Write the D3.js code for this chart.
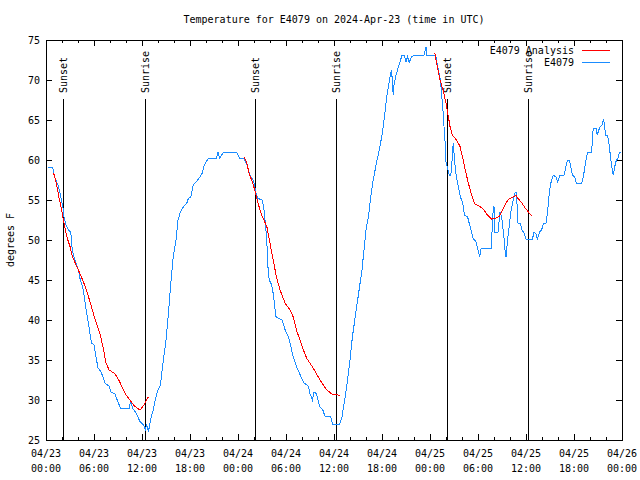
<!DOCTYPE html>
<html>
<head>
<meta charset="utf-8">
<script src="https://cdn.jsdelivr.net/npm/d3@7"></script>
<style>
  html, body { margin: 0; padding: 0; background: #fff; }
  svg { display: block; }
  text { font-family: "DejaVu Sans Mono", monospace; font-size: 10px; fill: #000; }
</style>
</head>
<body>
<svg id="chart" width="640" height="480"></svg>
<script>
// ---- DATA ----
const titleText = "Temperature for E4079 on 2024-Apr-23 (time in UTC)";
const yLabel = "degrees F";
const startTime = "2024-04-23T00:00:00Z";
const seriesNames = ["E4079 Analysis", "E4079"];
const yTicks = [25, 30, 35, 40, 45, 50, 55, 60, 65, 70, 75];
const xTickHours = [0, 6, 12, 18, 24, 30, 36, 42, 48, 54, 60, 66, 72];

// observed temperatures (hours since start, degrees F)
const obsHours = [0.25,0.85,1.0,1.25,1.55,1.85,2.1,2.25,2.5,2.8,3.1,3.2,3.3,3.5,3.75,4.05,4.25,4.6,4.8,4.95,5.3,5.5,5.7,6.0,6.25,6.5,6.9,7.1,7.4,7.9,8.1,8.6,8.9,9.3,10.4,10.6,10.8,11.3,11.75,12.2,12.4,12.6,12.8,13.1,13.4,13.75,14.0,14.3,14.7,15.0,15.3,15.6,15.9,16.25,16.5,16.8,17.2,17.6,17.8,18.1,18.4,18.8,19.25,19.5,19.8,20.3,21.3,21.5,21.7,22.2,23.8,24.25,24.75,25.2,25.5,25.9,26.1,26.3,26.5,27.0,27.2,27.4,27.6,27.7,27.9,28.2,28.4,28.75,29.5,29.9,30.3,30.6,30.9,31.3,31.75,32.2,32.8,33.0,33.3,33.5,33.8,34.2,34.6,34.9,35.6,35.8,36.7,37.0,37.4,37.8,38.0,38.3,38.6,38.9,39.2,39.5,39.7,40.0,40.3,40.6,40.9,41.3,41.75,42.1,42.4,42.6,43.0,43.2,43.4,43.5,43.8,44.2,44.5,44.75,45.0,45.2,45.4,45.7,46.1,47.25,47.5,47.6,48.7,49.0,49.3,49.6,49.75,49.9,50.0,50.4,50.6,50.8,50.9,51.1,51.3,51.5,51.8,52.1,52.3,52.7,52.9,53.2,53.4,53.75,53.95,54.2,54.4,55.7,55.8,56.0,56.1,56.5,56.75,56.95,57.2,57.4,57.5,57.7,57.9,58.1,58.4,58.6,58.75,58.9,59.0,59.3,59.5,59.8,60.0,60.8,61.0,61.25,61.4,61.7,61.95,62.2,62.5,62.7,62.9,63.1,63.4,63.75,63.95,64.25,64.75,65.0,65.2,65.4,65.6,65.8,66.1,66.3,66.95,67.2,67.5,67.7,68.2,68.4,68.75,68.9,69.1,69.3,69.5,69.7,69.8,69.95,70.2,70.4,70.6,70.9,71.1,71.3,71.5,71.7,71.85];
const obsTemps = [59.1,59.1,58.1,57.5,56.7,55.4,54.2,52.9,51.9,51.25,51.0,49.6,48.75,47.9,47.1,46.25,45.2,44.0,42.9,41.7,39.6,38.3,37.1,36.9,35.4,34.0,33.5,32.9,32.1,31.7,31.0,30.8,30.0,29.0,29.0,29.9,29.0,28.3,27.3,26.9,26.25,26.9,26.0,27.7,28.75,30.4,31.25,31.9,35.2,37.5,40.8,44.6,47.9,50.0,52.5,53.5,54.2,54.6,55.2,55.4,56.9,57.3,57.9,58.3,59.4,60.2,60.2,61.0,60.2,61.0,61.0,60.2,60.2,59.2,58.1,57.5,56.7,55.6,55.2,55.0,54.2,52.3,50.0,47.1,45.0,44.4,43.3,40.4,40.0,38.75,37.9,36.7,35.4,34.2,33.2,32.2,31.7,30.8,30.0,31.0,30.8,29.2,28.75,27.9,27.9,27.0,27.0,27.9,30.4,33.3,35.0,37.9,40.0,42.1,44.2,46.25,48.3,51.25,52.9,55.4,57.5,59.6,61.7,63.75,66.25,67.9,70.4,71.25,68.1,69.4,70.8,72.1,73.1,73.1,72.3,72.9,72.2,72.9,73.1,73.1,74.1,73.1,73.1,71.5,70.0,66.5,64.2,62.1,59.8,58.1,58.1,60.4,62.1,59.6,57.9,56.9,55.4,54.6,53.1,52.9,52.1,51.0,50.2,49.8,49.0,47.9,49.0,49.0,52.9,54.2,51.0,51.0,53.5,52.9,50.8,48.5,47.9,50.0,51.7,53.5,55.0,55.8,56.0,54.2,52.1,52.1,51.25,50.8,50.1,50.1,51.0,50.8,50.1,51.0,51.25,52.1,52.1,53.5,55.8,57.1,58.1,57.9,57.3,58.1,58.1,59.2,60.0,60.0,59.2,58.1,57.9,57.1,57.1,58.1,60.0,61.0,61.0,64.0,64.0,63.1,63.75,64.2,64.4,65.1,64.4,63.1,63.0,61.9,60.0,58.1,59.2,60.0,60.2,61.0,61.0];

// analysis temperatures (null = gap between runs)
const anaHours = [0.9,1.04,1.3,1.6,1.96,2.25,2.6,3.0,3.3,3.75,4.25,4.9,5.5,6.1,6.75,7.2,7.5,7.9,8.6,9.2,9.9,10.5,11.1,11.75,12.25,12.8,null,24.75,25.1,25.4,25.7,26.1,26.5,26.96,27.6,28.0,28.4,28.8,29.25,29.9,30.5,30.9,31.3,31.75,32.2,32.6,33.4,34.25,35.1,35.8,36.7,null,48.6,48.9,49.25,49.7,50.0,50.3,50.5,50.8,51.3,51.75,52.1,52.4,52.8,53.2,53.6,54.25,54.7,55.2,55.7,56.1,56.6,56.95,57.4,57.8,58.3,58.75,59.0,59.5,59.9,60.3,60.7];
const anaTemps = [58.4,58.1,57.1,55.4,53.75,52.1,50.4,49.2,47.9,46.9,45.8,44.2,42.3,40.2,38.3,36.25,34.6,33.75,33.3,32.3,30.8,30.0,29.2,28.75,29.4,30.4,null,60.4,59.6,58.3,57.5,56.25,54.6,53.1,51.7,49.6,47.5,45.4,43.75,42.1,41.25,40.4,38.75,37.5,36.2,35.2,34.0,32.5,31.25,30.7,30.6,null,73.4,71.7,70.0,68.5,67.1,65.4,64.2,63.1,62.5,61.7,60.2,58.75,57.1,55.6,54.5,54.2,53.8,53.1,52.6,52.7,52.9,53.5,54.4,55.1,55.3,55.6,55.2,54.6,54.0,53.5,53.0];

// sun events (hours since start)
const sunLabels = ["Sunset", "Sunrise", "Sunset", "Sunrise", "Sunset", "Sunrise"];
const sunHours = [2.15, 12.35, 26.15, 36.25, 50.15, 60.2];

// ---- CHART ----
const colors = { analysis: "#ff0000", obs: "#1a8cff" };
const t0 = new Date(startTime).getTime();
const toDate = h => new Date(t0 + h * 3600 * 1000);

const svg = d3.select("#chart");
const L = 46, R = 622, T = 40, B = 440;

const x = d3.scaleUtc().domain([toDate(0), toDate(72)]).range([L, R]);
const y = d3.scaleLinear().domain([25, 75]).range([B, T]);

svg.append("rect").attr("width", 640).attr("height", 480).attr("fill", "#fff");

// ticks (inward, mirrored)
const tickG = svg.append("g").attr("stroke", "#000").attr("stroke-width", 1).attr("shape-rendering", "crispEdges");
const minorHours = d3.range(0, 73, 2);
minorHours.forEach(h => {
  const xx = Math.round(x(toDate(h))) + 0.5;
  const len = (h % 6 === 0) ? 6 : 3;
  tickG.append("line").attr("x1", xx).attr("x2", xx).attr("y1", B).attr("y2", B - len);
  tickG.append("line").attr("x1", xx).attr("x2", xx).attr("y1", T).attr("y2", T + len);
});
yTicks.forEach(v => {
  const yy = Math.round(y(v)) + 0.5;
  tickG.append("line").attr("x1", L).attr("x2", L + 6).attr("y1", yy).attr("y2", yy);
  tickG.append("line").attr("x1", R).attr("x2", R - 6).attr("y1", yy).attr("y2", yy);
});

// y tick labels
svg.append("g").selectAll("text").data(yTicks).join("text")
  .attr("x", L - 6).attr("y", d => y(d)).attr("dy", "0.35em")
  .attr("text-anchor", "end").text(d => d);

// x tick labels
const fmtDay = d3.utcFormat("%m/%d"), fmtTime = d3.utcFormat("%H:%M");
const xl = svg.append("g").selectAll("g").data(xTickHours.map(toDate)).join("g")
  .attr("transform", d => `translate(${x(d)},0)`);
xl.append("text").attr("y", 457).attr("text-anchor", "middle").text(d => fmtDay(d));
xl.append("text").attr("y", 472).attr("text-anchor", "middle").text(d => fmtTime(d));

// title and axis label
svg.append("text").attr("x", (L + R) / 2).attr("y", 23).attr("text-anchor", "middle").text(titleText);
svg.append("text").attr("transform", `translate(14,${(T + B) / 2}) rotate(-90)`)
  .attr("text-anchor", "middle").text(yLabel);

// sun event lines
const sunG = svg.append("g");
sunHours.forEach((h, i) => {
  const xx = Math.round(x(toDate(h))) + 0.5;
  sunG.append("line").attr("x1", xx).attr("x2", xx).attr("y1", 99).attr("y2", B)
    .attr("stroke", "#000").attr("shape-rendering", "crispEdges");
  sunG.append("text").attr("transform", `translate(${xx},93) rotate(-90)`)
    .attr("dy", "0.35em").attr("text-anchor", "start").text(sunLabels[i]);
});

// series
const obsData = obsHours.map((h, i) => ({ t: toDate(h), v: obsTemps[i] }));
const anaData = anaHours.map((h, i) => ({ t: h === null ? null : toDate(h), v: anaTemps[i] }));
const line = d3.line().defined(d => d.v !== null).x(d => x(d.t)).y(d => y(d.v));

svg.append("path").datum(obsData).attr("d", line)
  .attr("fill", "none").attr("stroke", colors.obs).attr("stroke-width", 1)
  .attr("shape-rendering", "crispEdges");
svg.append("path").datum(anaData).attr("d", line)
  .attr("fill", "none").attr("stroke", colors.analysis).attr("stroke-width", 1)
  .attr("shape-rendering", "crispEdges");

// frame
svg.append("rect").attr("x", L + 0.5).attr("y", T + 0.5).attr("width", R - L).attr("height", B - T)
  .attr("fill", "none").attr("stroke", "#000").attr("shape-rendering", "crispEdges");

// legend
const leg = svg.append("g");
[[seriesNames[0], colors.analysis, 50], [seriesNames[1], colors.obs, 62]].forEach(([name, c, yy]) => {
  leg.append("text").attr("x", 574).attr("y", yy).attr("dy", "0.35em").attr("text-anchor", "end").text(name);
  leg.append("line").attr("x1", 582).attr("x2", 610).attr("y1", yy + 0.5).attr("y2", yy + 0.5)
    .attr("stroke", c).attr("shape-rendering", "crispEdges");
});
</script>
</body>
</html>
